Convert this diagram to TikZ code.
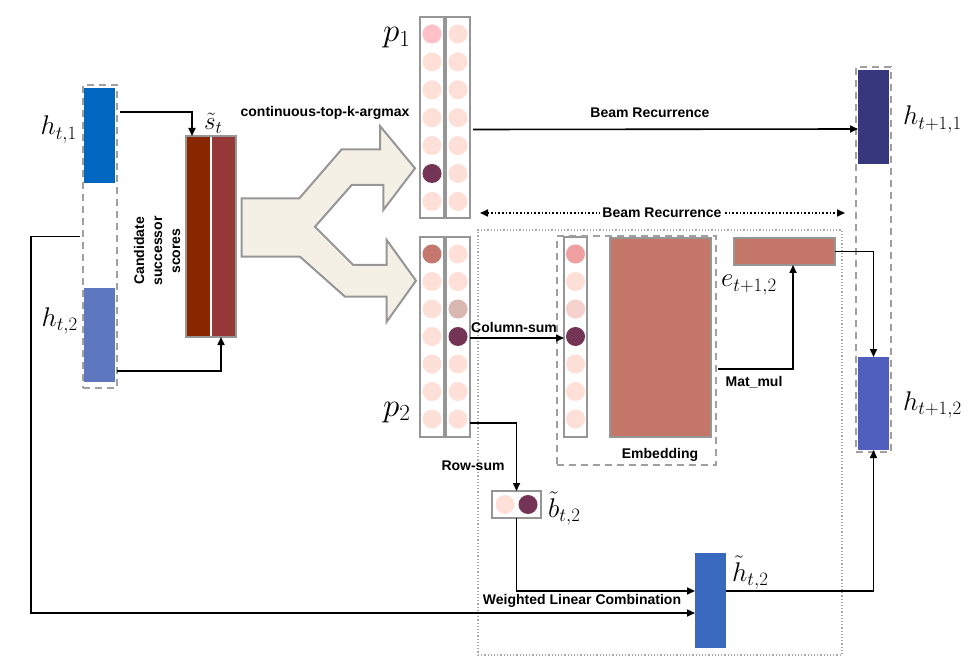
\RequirePackage{fix-cm}
\documentclass[tikz,border=0pt]{standalone}
\usepackage{fontspec}
\setsansfont{Liberation Sans}
\usetikzlibrary{arrows.meta,calc}
\definecolor{hA}{RGB}{0,102,191}
\definecolor{hB}{RGB}{93,120,190}
\definecolor{hC}{RGB}{55,55,125}
\definecolor{hD}{RGB}{80,95,190}
\definecolor{hE}{RGB}{56,105,190}
\definecolor{scA}{RGB}{137,40,0}
\definecolor{scB}{RGB}{150,56,56}
\definecolor{forkfill}{RGB}{245,240,229}
\definecolor{bgray}{RGB}{150,150,150}
\definecolor{dgray}{RGB}{160,160,160}
\definecolor{tgray}{RGB}{170,170,170}
\definecolor{cl}{RGB}{255,224,216}
\definecolor{cpink}{RGB}{255,192,200}
\definecolor{cdark}{RGB}{115,52,85}
\definecolor{cmid}{RGB}{196,120,112}
\definecolor{cgr}{RGB}{216,184,176}
\definecolor{cvA}{RGB}{240,160,160}
\definecolor{cvB}{RGB}{245,210,205}
\definecolor{emb}{RGB}{196,118,104}
\begin{document}
\begin{tikzpicture}[x=1pt,y=-1pt,
  box/.style={rectangle,inner sep=0pt,outer sep=0pt},
  vec/.style={box,draw=none},
  colbox/.style={box,draw=bgray,line width=2pt,fill=white,minimum width=24pt,minimum height=201pt},
  dashbox/.style={box,draw=dgray,line width=2pt,dash pattern=on 7pt off 5pt},
  arr/.style={-{Triangle[length=8pt,width=7pt]},line width=1.6pt},
  lbl/.style={font=\sffamily\bfseries\fontsize{14}{18}\selectfont,inner sep=1pt},
  mlbl/.style={font=\fontsize{27}{30}\selectfont,inner sep=0pt},
  plbl/.style={font=\fontsize{33}{36}\selectfont,inner sep=0pt}
]
\useasboundingbox (0,0) rectangle (974,668);

% dotted region
\node[box,draw=tgray,line width=1.2pt,dotted,minimum width=364pt,minimum height=425pt] (dotbox) at (660,442.5) {};

% left hidden states
\node[vec,fill=hA,minimum width=31pt,minimum height=95pt] (ht1) at (99.5,135.5) {};
\node[vec,fill=hB,minimum width=31pt,minimum height=94pt] (ht2) at (99.5,335) {};
\node[dashbox,minimum width=34pt,minimum height=303pt] (hbox) at (100,236.5) {};
\node[mlbl,anchor=base east] (lht1) at (77,135) {$h_{t,1}$};
\node[mlbl,anchor=base east] (lht2) at (78,326) {$h_{t,2}$};

% scores
\node[box,draw=bgray,line width=2pt,fill=white,minimum width=50pt,minimum height=201pt] (st) at (211,236.5) {};
\fill[scA] (187,137) rectangle (209.5,336);
\fill[scB] (212,137) rectangle (235,336);
\node[mlbl,font=\fontsize{25}{28}\selectfont,anchor=base west] (lst) at (204,130) {$\tilde{s}_t$};
\node[lbl,rotate=90,align=center] (cand) at (157,251) {Candidate\\successor\\scores};
\node[lbl] (ctk) at (325,113) {continuous-top-k-argmax};

% fork arrow
\filldraw[fill=forkfill,draw=bgray,line width=2pt,line join=miter]
  (241.7,198.3) -- (299.3,198.3) -- (341.7,149.3) -- (380,149.3) -- (380,126)
  -- (415,168.3) -- (383.3,210) -- (383.3,185) -- (351.7,185) -- (315,226.7)
  -- (353.3,265) -- (386.7,265) -- (386.7,240) -- (416,280.7) -- (386.7,321.7)
  -- (386.7,296.7) -- (345,296.7) -- (300,256.7) -- (241.7,256.7) -- cycle;

% p1
\node[colbox] (p1a) at (432,117.5) {};
\node[colbox] (p1b) at (458,117.5) {};
\foreach \i in {0,...,6} {
  \fill[cl] (432,{34+27.9*\i}) circle (9.5pt);
  \fill[cl] (458,{34+27.9*\i}) circle (9.5pt);
}
\fill[cpink] (432,34) circle (9.5pt);
\fill[cdark] (432,{34+27.9*5}) circle (9.5pt);
\node[plbl,anchor=base west] (lp1) at (383,42) {$p_1$};

% p2
\node[colbox,minimum height=200pt] (p2a) at (432,337) {};
\node[colbox,minimum height=200pt] (p2b) at (458,337) {};
\foreach \i in {0,...,6} {
  \fill[cl] (432,{254+27.5*\i}) circle (9.5pt);
  \fill[cl] (458,{254+27.5*\i}) circle (9.5pt);
}
\fill[cmid] (432,254) circle (9.5pt);
\fill[cgr] (458,309) circle (9.5pt);
\fill[cdark] (458,336.5) circle (9.5pt);
\node[plbl,anchor=base west] (lp2) at (383,416) {$p_2$};

% column vector and embedding
\node[colbox,minimum width=23pt,minimum height=200pt] (cv) at (575.5,337) {};
\foreach \i in {0,...,6} {
  \fill[cl] (575.5,{254+27.5*\i}) circle (9.5pt);
}
\fill[cvA] (575.5,254) circle (9.5pt);
\fill[cvB] (575.5,309) circle (9.5pt);
\fill[cdark] (575.5,336.5) circle (9.5pt);
\node[box,fill=emb,draw=bgray,line width=2pt,minimum width=101pt,minimum height=199pt] (embm) at (660.5,337.5) {};
\node[dashbox,minimum width=159pt,minimum height=229pt] (embbox) at (636.5,350.5) {};
\node[lbl] (lemb) at (660,455) {Embedding};

\node[box,fill=emb,draw=bgray,line width=2pt,minimum width=101pt,minimum height=27pt] (erect) at (784.5,251.5) {};
\node[mlbl,anchor=base west] (le) at (721,287) {$e_{t+1,2}$};

% right hidden states
\node[vec,fill=hC,minimum width=31pt,minimum height=94pt] (ht11) at (873.5,117) {};
\node[vec,fill=hD,minimum width=31pt,minimum height=93pt] (ht12) at (873.5,403.5) {};
\node[dashbox,minimum width=35pt,minimum height=385pt] (rbox) at (873.5,259.5) {};
\node[mlbl,anchor=base west] (lht11) at (903,125) {$h_{t+1,1}$};
\node[mlbl,anchor=base west] (lht12) at (903,410) {$h_{t+1,2}$};

% b tilde
\node[box,draw=bgray,line width=2pt,fill=white,minimum width=49pt,minimum height=27pt] (bt) at (516.5,504.5) {};
\fill[cl] (505,504.5) circle (9.5pt);
\fill[cdark] (528,504.5) circle (9.5pt);
\node[mlbl,anchor=base west] (lbt) at (548,517) {$\tilde{b}_{t,2}$};

% h tilde
\node[vec,fill=hE,minimum width=31pt,minimum height=95pt] (htil) at (710.5,600.5) {};
\node[mlbl,anchor=base west] (lhtil) at (732,581) {$\tilde{h}_{t,2}$};

% connectors
\draw[arr] ([xshift=5pt,yshift=23.5pt]ht1.east) -| ([xshift=6pt]st.north west);
\draw[arr] ([xshift=2pt,yshift=-36pt]ht2.east) -| ([xshift=10pt]st.south);
\draw[arr] ([xshift=-3pt]hbox.west) -- ++(-49,0) |- ([yshift=-12.5pt]htil.west);
\draw[arr] (bt.south) |- ([yshift=9.5pt]htil.west);
\draw[arr] ([yshift=-1pt]p2b.east) -- ([yshift=-1pt]p2b.east -| cv.west);
\draw[arr] ([yshift=-86pt]p2b.east) -| (bt.north);
\draw[arr] ([xshift=3pt,yshift=-12pt]p1b.east) -- ([yshift=-12pt]ht11.west);
\draw[arr] ([xshift=2pt,yshift=-18.5pt]embbox.east) -| ([xshift=8.5pt]erect.south);
\draw[arr] (erect.east) -| (ht12.north);
\draw[arr] ([yshift=9.5pt]htil.east) -| (ht12.south);

\coordinate (dl) at (480,213);
\coordinate (dr) at (845,213);
\draw[dotted,line width=1.6pt,{Triangle[length=8pt,width=7pt]}-{Triangle[length=8pt,width=7pt]}] (dl) -- (dr);

% text labels
\node[lbl] (lbr1) at (650,113) {Beam Recurrence};
\node[lbl,fill=white,inner sep=2pt] (lbr2) at (662,213) {Beam Recurrence};
\node[lbl] (lcs) at (514,327) {Column-sum};
\node[lbl] (lmm) at (754,382) {Mat\_mul};
\node[lbl] (lrs) at (473,466) {Row-sum};
\node[lbl] (lwlc) at (582,601) {Weighted Linear Combination};
\end{tikzpicture}
\end{document}
